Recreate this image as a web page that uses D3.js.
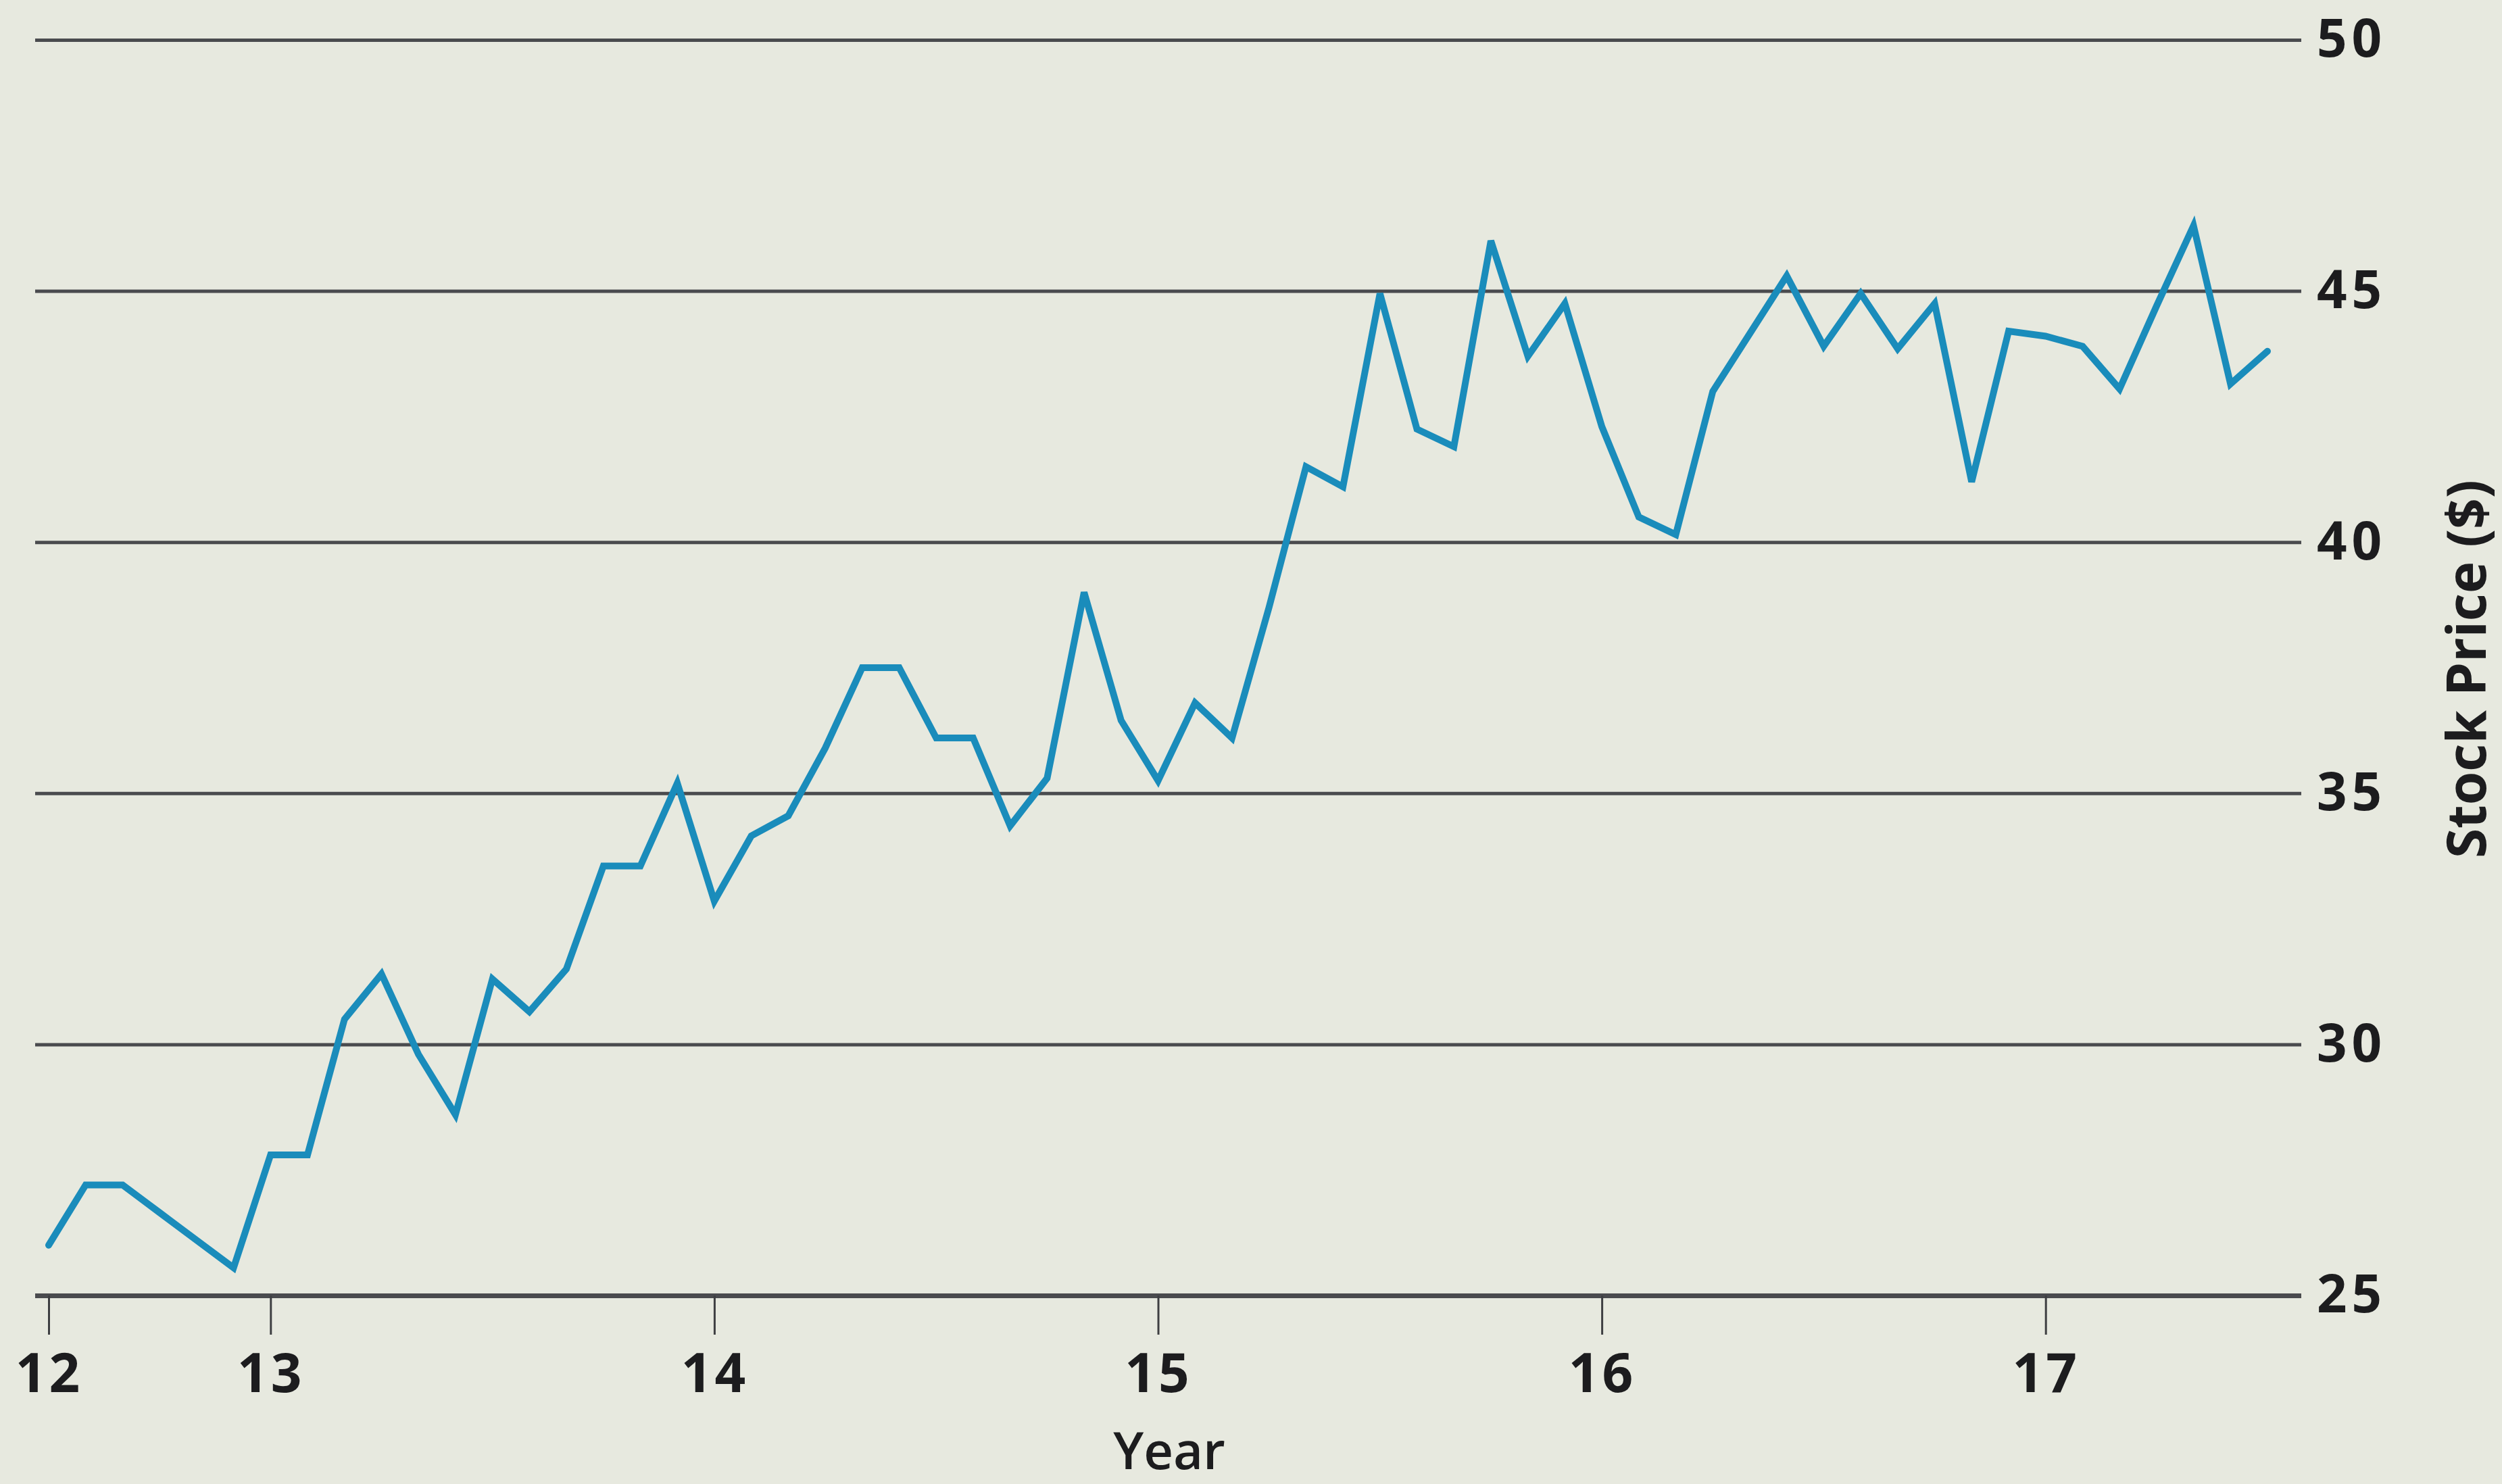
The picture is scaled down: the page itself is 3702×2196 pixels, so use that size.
<!DOCTYPE html>
<html>
<head>
<meta charset="utf-8">
<script src="https://cdn.jsdelivr.net/npm/d3@7"></script>
<style>
  html, body { margin: 0; padding: 0; background: #e7e9df; }
  svg { display: block; }
</style>
</head>
<body>
<svg id="chart" width="3702" height="2196"></svg>
<script>
// ---- data ----
// month index from the first plotted point ("12" tick) to the last
const months = [0,1,2,3,4,5,6,7,8,9,10,11,12,13,14,15,16,17,18,19,20,
  21,22,23,24,25,26,27,28,29,30,31,32,33,34,35,36,37,38,39,40,
  41,42,43,44,45,46,47,48,49,50,51,52,53,54,55,56,57,58,59,60];
const prices = [26.0, 27.2, 27.2, 26.65, 26.1, 25.55, 27.8, 27.8, 30.5, 31.4, 29.8,
  28.6, 31.3, 30.65, 31.5, 33.55, 33.55, 35.2, 32.85, 34.15, 34.55,
  35.9, 37.5, 37.5, 36.1, 36.1, 34.35, 35.3, 39.0, 36.45, 35.25,
  36.8, 36.1, 38.7, 41.5, 41.1, 44.95, 42.25, 41.9, 46.0, 43.7,
  44.75, 42.3, 40.5, 40.15, 43.0, 44.15, 45.3, 43.9, 44.95, 43.85,
  44.75, 41.2, 44.2, 44.1, 43.9, 43.05, 44.7, 46.3, 43.15, 43.8];
const xTickMonths = [0, 6, 18, 30, 42, 54];
const xTickLabels = ["12", "13", "14", "15", "16", "17"];
const yTicks = [25, 30, 35, 40, 45, 50];
const xTitle = "Year";
const yTitle = "Stock Price ($)";

// ---- layout ----
const svg = d3.select("#chart");
const W = 3702, H = 2196;
const gridLeft = 52, gridRight = 3405;

svg.append("rect").attr("width", W).attr("height", H).attr("fill", "#e7e9df");

const x = d3.scaleLinear().domain([0, 60]).range([72, 3355]);
const y = d3.scaleLinear().domain([25, 50]).range([1917, 59]);

const font = "'Open Sans', 'Liberation Sans', Arial, sans-serif";

// horizontal gridlines + right-hand value labels
const yAxis = svg.append("g")
  .attr("transform", `translate(${gridRight},0)`)
  .call(d3.axisRight(y).tickValues(yTicks)
    .tickSizeInner(-(gridRight - gridLeft)).tickSizeOuter(0).tickPadding(23));
yAxis.select(".domain").remove();
yAxis.selectAll(".tick line")
  .attr("stroke", "#4a4b4e")
  .attr("stroke-width", d => d === 25 ? 7 : 5);
yAxis.selectAll(".tick text")
  .attr("fill", "#1c1c1e")
  .style("font-family", font)
  .style("font-weight", 700)
  .style("font-size", "78px")
  .style("letter-spacing", "7px");

// bottom year ticks
const xAxis = svg.append("g")
  .attr("transform", `translate(0,${y(25)})`)
  .call(d3.axisBottom(x).tickValues(xTickMonths)
    .tickFormat((d, i) => xTickLabels[i]).tickSize(58).tickPadding(28));
xAxis.select(".domain").remove();
xAxis.selectAll(".tick line").attr("stroke", "#3e3f42").attr("stroke-width", 3);
xAxis.selectAll(".tick text")
  .attr("fill", "#1c1c1e")
  .style("font-family", font)
  .style("font-weight", 700)
  .style("font-size", "80px")
  .style("letter-spacing", "4px");

// axis titles
svg.append("text")
  .attr("x", 1730).attr("y", 2174)
  .attr("text-anchor", "middle")
  .attr("fill", "#1c1c1e")
  .style("font-family", font).style("font-weight", 600).style("font-size", "76px")
  .text(xTitle);

svg.append("text")
  .attr("transform", "translate(3678,990) rotate(-90)")
  .attr("text-anchor", "middle")
  .attr("fill", "#1c1c1e")
  .style("font-family", font).style("font-weight", 700).style("font-size", "80px")
  .text(yTitle);

// the price line
const line = d3.line()
  .x((d, i) => x(months[i]))
  .y(d => y(d))
  .curve(d3.curveLinear);

svg.append("path")
  .datum(prices)
  .attr("d", line)
  .attr("fill", "none")
  .attr("stroke", "#1a8cbb")
  .attr("stroke-width", 10)
  .attr("stroke-linejoin", "miter")
  .attr("stroke-linecap", "round");
</script>
</body>
</html>
